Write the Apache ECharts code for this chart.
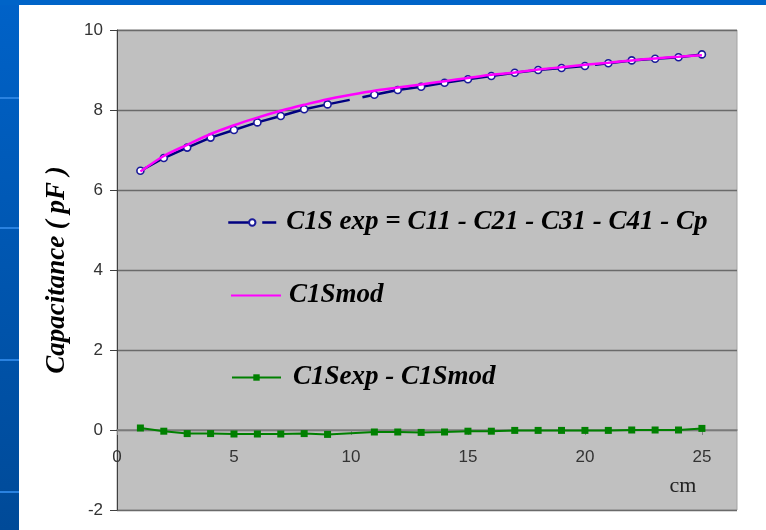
<!DOCTYPE html>
<html>
<head>
<meta charset="utf-8">
<script src="https://cdn.jsdelivr.net/npm/echarts@6/dist/echarts.min.js"></script>
<style>
html,body{margin:0;padding:0;background:#0060c4;}
#chart{width:766px;height:530px;}
</style>
</head>
<body>
<div id="chart"></div>
<script>
// ---- data ----
var cm = [1,2,3,4,5,6,7,8,9,10,11,12,13,14,15,16,17,18,19,20,21,22,23,24,25];
var c1sExp = [6.48,6.80,7.06,7.31,7.50,7.69,7.85,8.02,8.14,null,8.38,8.50,8.58,8.68,8.77,8.85,8.93,9.00,9.05,9.10,9.17,9.24,9.28,9.32,9.39];
var c1sMod = [6.46,6.85,7.13,7.40,7.62,7.81,7.98,8.13,8.27,8.38,8.48,8.56,8.64,8.72,8.80,8.88,8.94,9.01,9.07,9.13,9.18,9.24,9.29,9.33,9.37];
var c1sDiff = [0.05,-0.03,-0.09,-0.09,-0.10,-0.10,-0.10,-0.09,-0.11,null,-0.05,-0.05,-0.06,-0.05,-0.03,-0.03,-0.01,-0.01,-0.01,-0.01,-0.01,0.00,0.00,0.00,0.04];
var yTicks = [-2,0,2,4,6,8,10];
var xTicks = [0,5,10,15,20,25];
var seriesNames = ['C1S exp = C11 - C21 - C31 - C41 - Cp','C1Smod','C1Sexp - C1Smod'];
var yTitle = 'Capacitance ( pF )';
var xTitle = 'cm';

function pairs(xs, ys){
  var out = [];
  for (var i=0;i<xs.length;i++){ if (ys[i] !== null) out.push([xs[i], ys[i]]); }
  return out;
}

var chart = echarts.init(document.getElementById('chart'), null, {renderer:'canvas'});
var serif = '"Liberation Serif", "Times New Roman", serif';
var sans = '"Liberation Sans", Arial, sans-serif';
function legendText(pad){
  return {fontFamily: serif, fontStyle:'italic', fontWeight:'bold', fontSize:27, color:'#000', padding:[0,0,0,pad]};
}

chart.setOption({
  animation:false,
  backgroundColor: new echarts.graphic.LinearGradient(0,0,0,1,[{offset:0,color:'#0062c8'},{offset:1,color:'#004a98'}]),
  graphic:[
    {type:'rect', shape:{x:0,y:0,width:766,height:5}, style:{fill:'#0064c8'}, silent:true, z:-10},
    {type:'rect', shape:{x:19,y:5,width:747,height:525}, style:{fill:'#ffffff'}, silent:true, z:-10},
    {type:'rect', shape:{x:0,y:97,width:19,height:2}, style:{fill:'#2a82e0'}, silent:true, z:-10},
    {type:'rect', shape:{x:0,y:227,width:19,height:2}, style:{fill:'#2a82e0'}, silent:true, z:-10},
    {type:'rect', shape:{x:0,y:359,width:19,height:2}, style:{fill:'#2a82e0'}, silent:true, z:-10},
    {type:'rect', shape:{x:0,y:491,width:19,height:2}, style:{fill:'#2a82e0'}, silent:true, z:-10},
    {type:'text', x:683, y:486, style:{text:xTitle, fontFamily:serif, fontSize:22, fill:'#222', textAlign:'center', textVerticalAlign:'middle'}, z:10}
  ],
  grid:{left:117, top:30, right:29, bottom:20, show:true, backgroundColor:'#c0c0c0', borderColor:'#a4a4a4', borderWidth:1},
  xAxis:{
    type:'value', min:0, max:26.5, interval:5, position:'bottom', offset:-80,
    axisLine:{onZero:false, lineStyle:{color:'#808080', width:1.5}},
    axisTick:{show:true, length:5, lineStyle:{color:'#808080'}},
    axisLabel:{margin:19, fontFamily:sans, fontSize:17, color:'#333', showMaxLabel:false,
      formatter:function(v){ return xTicks.indexOf(v) >= 0 ? String(v) : ''; }},
    splitLine:{show:false}
  },
  yAxis:{
    type:'value', min:-2, max:10, interval:2,
    name:yTitle, nameLocation:'middle', nameRotate:90, nameGap:46,
    nameTextStyle:{fontFamily:serif, fontStyle:'italic', fontWeight:'bold', fontSize:27, color:'#000'},
    axisLine:{show:true, lineStyle:{color:'#404040', width:1}},
    axisTick:{show:true, length:7, lineStyle:{color:'#404040'}},
    axisLabel:{margin:14, fontFamily:sans, fontSize:17, color:'#333',
      formatter:function(v){ return yTicks.indexOf(v) >= 0 ? String(v) : ''; }},
    splitLine:{show:true, lineStyle:{color:'#6a6a6a', width:1.3}}
  },
  legend:[
    {data:[seriesNames[0]], left:222, top:204, itemWidth:48, itemHeight:8, textStyle:legendText(5),
      lineStyle:{type:[25,9], width:2.5}},
    {data:[seriesNames[1]], left:225, top:277, itemWidth:50, itemHeight:8, textStyle:legendText(3),
      itemStyle:{color:'rgba(0,0,0,0)', borderWidth:0, opacity:0}},
    {data:[seriesNames[2]], left:226, top:359, itemWidth:49, itemHeight:8, textStyle:legendText(7)}
  ],
  series:[
    {name:seriesNames[0], type:'line', data:pairs(cm, c1sExp), z:3,
      symbol:'circle', symbolSize:7,
      lineStyle:{color:'#000080', width:2.5, type:[222,13]},
      itemStyle:{color:'#ffffff', borderColor:'#1a1a9a', borderWidth:1.6}},
    {name:seriesNames[1], type:'line', data:pairs(cm, c1sMod), z:4, smooth:0.3,
      symbol:'none', lineStyle:{color:'#ff00ff', width:2.5}, itemStyle:{color:'#ff00ff'}},
    {name:seriesNames[2], type:'line', data:pairs(cm, c1sDiff), z:5,
      symbol:'rect', symbolSize:7,
      lineStyle:{color:'#008000', width:2}, itemStyle:{color:'#008000'}}
  ]
});
</script>
</body>
</html>
